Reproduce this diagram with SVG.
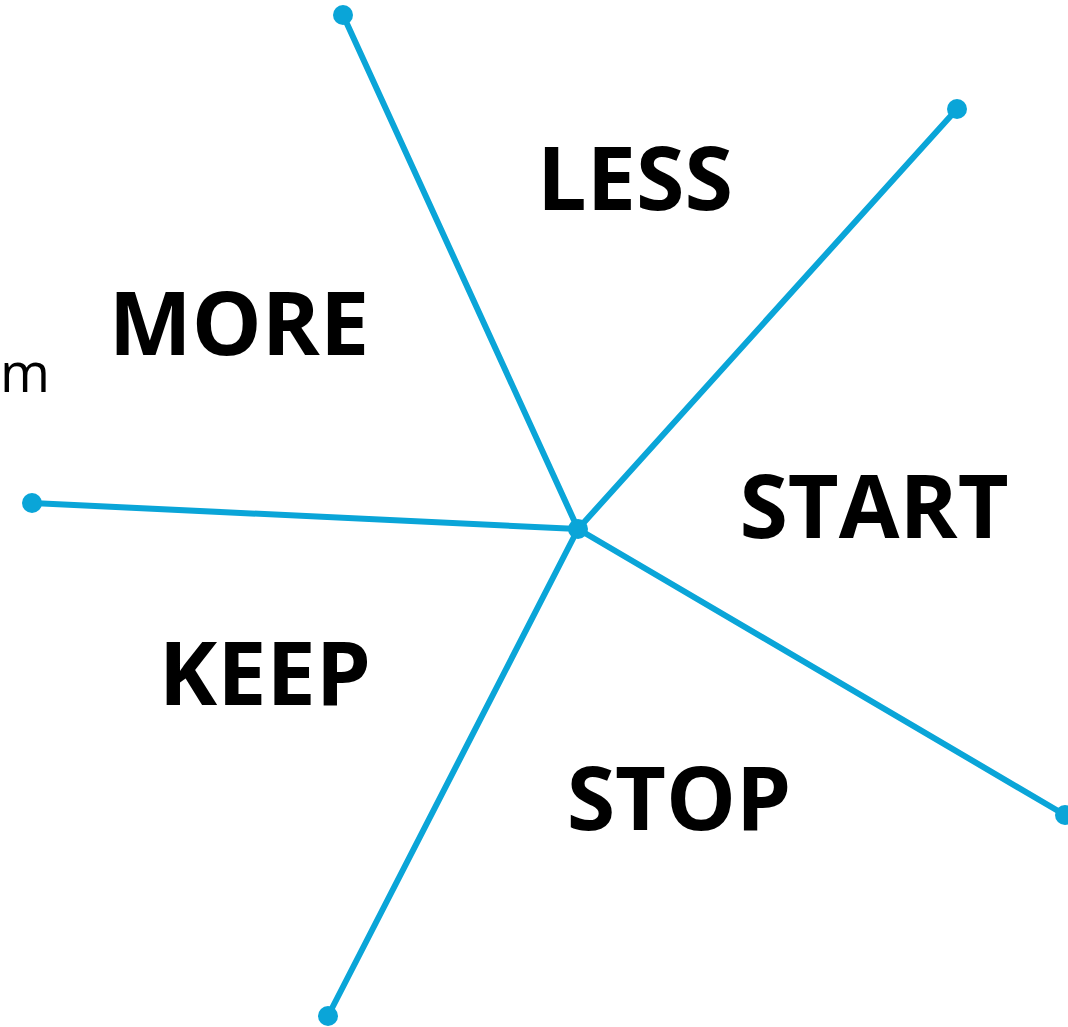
<svg xmlns="http://www.w3.org/2000/svg" width="1068" height="1027" viewBox="0 0 1068 1027">
<style>
.lbl{font-family:"Open Sans","Noto Sans",sans-serif;font-weight:700;font-size:88px;fill:#000;text-anchor:middle}
.sm{font-family:"Open Sans","Noto Sans",sans-serif;font-weight:500;font-size:54px;fill:#000}
.ln{stroke:#0aa5d8;stroke-width:6;fill:none;stroke-linecap:round}
.dot{fill:#0aa5d8}
</style>
<rect width="1068" height="1027" fill="#fff"/>
<g id="connectors">
<line class="ln" x1="578" y1="529" x2="343" y2="15"/>
<line class="ln" x1="578" y1="529" x2="957" y2="109"/>
<line class="ln" x1="578" y1="529" x2="32" y2="503"/>
<line class="ln" x1="578" y1="529" x2="1065" y2="815"/>
<line class="ln" x1="578" y1="529" x2="328" y2="1016"/>
<circle class="dot" cx="343" cy="15" r="10"/>
<circle class="dot" cx="957" cy="109" r="10"/>
<circle class="dot" cx="32" cy="503" r="10"/>
<circle class="dot" cx="1065" cy="815" r="10"/>
<circle class="dot" cx="328" cy="1016" r="10"/>
<circle class="dot" cx="578" cy="529" r="10"/>
</g>
<g id="less"><text class="lbl" x="635" y="210">LESS</text></g>
<g id="more"><text class="lbl" x="239" y="355">MORE</text></g>
<g id="start"><text class="lbl" x="874" y="538">START</text></g>
<g id="keep"><text class="lbl" x="265" y="705">KEEP</text></g>
<g id="stop"><text class="lbl" x="679" y="830">STOP</text></g>
<g id="m"><text class="sm" x="0" y="392">m</text></g>
</svg>
